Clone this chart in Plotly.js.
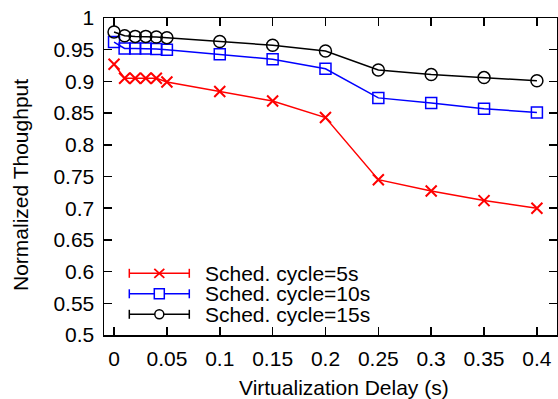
<!DOCTYPE html>
<html>
<head>
<meta charset="utf-8">
<script src="https://cdn.plot.ly/plotly-3.0.1.min.js"></script>
<style>html,body{margin:0;padding:0;background:#fff;}</style>
</head>
<body>
<div id="chart" style="width:558px;height:399px;"></div>
<script>
var delays = [0, 0.01, 0.02, 0.03, 0.04, 0.05, 0.1, 0.15, 0.2, 0.25, 0.3, 0.35, 0.4];
var cycle5s = [0.927, 0.905, 0.905, 0.905, 0.905, 0.899, 0.884, 0.869, 0.843, 0.745, 0.727, 0.712, 0.700];
var cycle10s = [0.962, 0.952, 0.952, 0.952, 0.951, 0.950, 0.943, 0.935, 0.920, 0.874, 0.866, 0.857, 0.851];
var cycle15s = [0.978, 0.972, 0.971, 0.971, 0.970, 0.969, 0.963, 0.957, 0.948, 0.918, 0.911, 0.906, 0.901];
var seriesNames = ['Sched. cycle=5s', 'Sched. cycle=10s', 'Sched. cycle=15s'];
var seriesColors = ['#ff0000', '#0000ff', '#000000'];
var seriesSymbols = ['x', 'square', 'circle'];
var xTicks = [0, 0.05, 0.1, 0.15, 0.2, 0.25, 0.3, 0.35, 0.4];
var xTickText = ['0', '0.05', '0.1', '0.15', '0.2', '0.25', '0.3', '0.35', '0.4'];
var yTicks = [0.5, 0.55, 0.6, 0.65, 0.7, 0.75, 0.8, 0.85, 0.9, 0.95, 1];
var yTickText = ['0.5', '0.55', '0.6', '0.65', '0.7', '0.75', '0.8', '0.85', '0.9', '0.95', '1'];
var xTitle = 'Virtualization Delay (s)';
var yTitle = 'Normalized Thoughput';

var FONT = 'Liberation Sans, Arial, Helvetica, sans-serif';
var FS = 21;
var W = 558, H = 399, ML = 104, MR = 1, MT = 18, MB = 64;
var PW = W - ML - MR, PH = H - MT - MB;
function px(x) { return (x - ML) / PW; }
function py(y) { return (H - MB - y) / PH; }

var traces = [
  {x: delays, y: cycle5s, name: seriesNames[0], mode: 'lines+markers',
   line: {color: seriesColors[0], width: 1.5},
   marker: {symbol: 'x-thin', size: 11, color: seriesColors[0], line: {color: seriesColors[0], width: 2}}},
  {x: delays, y: cycle10s, name: seriesNames[1], mode: 'lines+markers',
   line: {color: seriesColors[1], width: 1.5},
   marker: {symbol: 'square-open', size: 11, color: seriesColors[1], line: {color: seriesColors[1], width: 1.5}}},
  {x: delays, y: cycle15s, name: seriesNames[2], mode: 'lines+markers',
   line: {color: seriesColors[2], width: 1.5},
   marker: {symbol: 'circle-open', size: 12, color: seriesColors[2], line: {color: seriesColors[2], width: 1.5}}}
];

// Legend (gnuplot style: line with end caps, marker in the middle)
var shapes = [], annotations = [];
var rowY = [273.3, 293.8, 314.3];
var x0 = 129.3, x1 = 189.3, xm = 159.3, xt = 202.5;
for (var i = 0; i < 3; i++) {
  var c = seriesColors[i], y = rowY[i];
  var ln = {color: c, width: 1.5};
  shapes.push({type: 'line', xref: 'paper', yref: 'paper', x0: px(x0), x1: px(x1), y0: py(y), y1: py(y), line: ln});
  shapes.push({type: 'line', xref: 'paper', yref: 'paper', x0: px(x0), x1: px(x0), y0: py(y - 4.5), y1: py(y + 4.5), line: ln});
  shapes.push({type: 'line', xref: 'paper', yref: 'paper', x0: px(x1), x1: px(x1), y0: py(y - 4.5), y1: py(y + 4.5), line: ln});
  if (seriesSymbols[i] === 'x') {
    shapes.push({type: 'line', xref: 'paper', yref: 'paper', x0: px(xm - 5), x1: px(xm + 5), y0: py(y - 4.5), y1: py(y + 4.5), line: {color: c, width: 1.8}});
    shapes.push({type: 'line', xref: 'paper', yref: 'paper', x0: px(xm - 5), x1: px(xm + 5), y0: py(y + 4.5), y1: py(y - 4.5), line: {color: c, width: 1.8}});
  } else if (seriesSymbols[i] === 'square') {
    shapes.push({type: 'rect', xref: 'paper', yref: 'paper', x0: px(xm - 5), x1: px(xm + 5), y0: py(y - 5), y1: py(y + 5), line: ln, fillcolor: '#fff'});
  } else {
    shapes.push({type: 'circle', xref: 'paper', yref: 'paper', x0: px(xm - 4.5), x1: px(xm + 4.5), y0: py(y - 4.5), y1: py(y + 4.5), line: ln, fillcolor: '#fff'});
  }
  annotations.push({xref: 'paper', yref: 'paper', x: px(xt), y: py(y), xanchor: 'left', yanchor: 'middle',
    showarrow: false, text: seriesNames[i], font: {family: FONT, size: FS, color: '#000'}});
}
// Axis titles
annotations.push({xref: 'paper', yref: 'paper', x: px(344), y: py(387), xanchor: 'center', yanchor: 'middle',
  showarrow: false, text: xTitle, font: {family: FONT, size: FS, color: '#000'}});
annotations.push({xref: 'paper', yref: 'paper', x: px(20), y: py(185), xanchor: 'center', yanchor: 'middle',
  showarrow: false, textangle: -90, text: yTitle, font: {family: FONT, size: FS, color: '#000'}});

var axisCommon = {
  showgrid: false, zeroline: false, showline: true, linecolor: '#000', linewidth: 1.5,
  mirror: 'allticks', ticks: 'inside', ticklen: 8, tickwidth: 1.5, tickcolor: '#000',
  tickfont: {family: FONT, size: FS, color: '#000'}
};

var layout = {
  width: W, height: H,
  margin: {l: ML, r: MR, t: MT, b: MB},
  paper_bgcolor: '#fff', plot_bgcolor: '#fff',
  showlegend: false,
  shapes: shapes, annotations: annotations,
  xaxis: Object.assign({}, axisCommon, {range: [-0.0095, 0.419], tickvals: xTicks, ticktext: xTickText, ticklabelstandoff: 4}),
  yaxis: Object.assign({}, axisCommon, {range: [0.5, 1], tickvals: yTicks, ticktext: yTickText, ticklabelstandoff: 4})
};

Plotly.newPlot('chart', traces, layout, {displayModeBar: false, staticPlot: true});
</script>
</body>
</html>
